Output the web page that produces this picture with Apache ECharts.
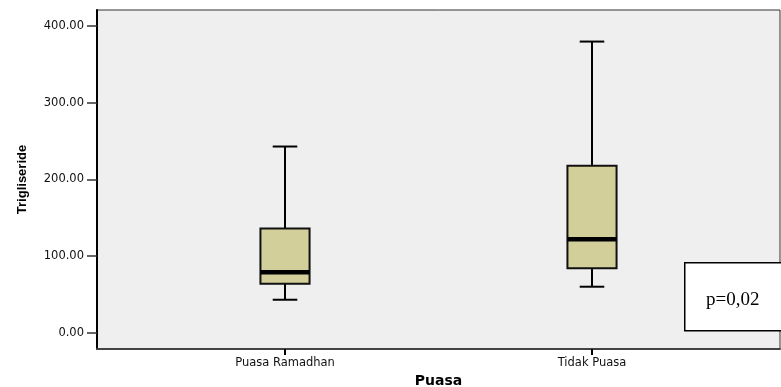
<!DOCTYPE html>
<html>
<head>
<meta charset="utf-8">
<script src="https://cdn.jsdelivr.net/npm/echarts@6/dist/echarts.min.js"></script>
<style>
  html, body { margin: 0; padding: 0; background: #ffffff; }
  #chart { width: 781px; height: 387px; }
</style>
</head>
<body>
<div id="chart"></div>
<script>
// Trigliseride by fasting group: five-number summaries per group
const categories = ['Puasa Ramadhan', 'Tidak Puasa'];
const positions = [1, 2];
const minValues = [43, 60];
const q1Values = [64, 84];
const medianValues = [79, 122];
const q3Values = [136, 218];
const maxValues = [243, 380];
const yTicks = [0, 100, 200, 300, 400];

const boxData = categories.map((c, i) => [
  positions[i], minValues[i], q1Values[i], medianValues[i], q3Values[i], maxValues[i]
]);

const BOX_WIDTH = 0.16;   // in x-axis units
const CAP_WIDTH = 0.08;
const boxFill = '#d3cf9a';

function renderBox(params, api) {
  const x = api.value(0);
  const pMin = api.coord([x, api.value(1)]);
  const pQ1 = api.coord([x, api.value(2)]);
  const pMed = api.coord([x, api.value(3)]);
  const pQ3 = api.coord([x, api.value(4)]);
  const pMax = api.coord([x, api.value(5)]);
  const halfW = api.size([BOX_WIDTH, 0])[0] / 2;
  const halfCap = api.size([CAP_WIDTH, 0])[0] / 2;
  const cx = pMed[0];
  const lineStyle = { stroke: '#000', lineWidth: 2 };
  return {
    type: 'group',
    children: [
      { type: 'line', shape: { x1: cx, y1: pMax[1], x2: cx, y2: pQ3[1] }, style: lineStyle },
      { type: 'line', shape: { x1: cx, y1: pQ1[1], x2: cx, y2: pMin[1] }, style: lineStyle },
      { type: 'line', shape: { x1: cx - halfCap, y1: pMax[1], x2: cx + halfCap, y2: pMax[1] }, style: lineStyle },
      { type: 'line', shape: { x1: cx - halfCap, y1: pMin[1], x2: cx + halfCap, y2: pMin[1] }, style: lineStyle },
      { type: 'rect', shape: { x: cx - halfW, y: pQ3[1], width: halfW * 2, height: pQ1[1] - pQ3[1] },
        style: { fill: boxFill, stroke: '#111', lineWidth: 2 } },
      { type: 'line', shape: { x1: cx - halfW, y1: pMed[1], x2: cx + halfW, y2: pMed[1] },
        style: { stroke: '#000', lineWidth: 4.5 } }
    ]
  };
}

const chart = echarts.init(document.getElementById('chart'), null, { renderer: 'canvas' });
chart.setOption({
  animation: false,
  backgroundColor: '#ffffff',
  grid: {
    left: 97, top: 10, right: 1, bottom: 38,
    outerBoundsMode: 'none', containLabel: false,
    show: true, backgroundColor: '#efefef', borderColor: '#333', borderWidth: 1
  },
  xAxis: {
    type: 'value',
    min: 0.3876, max: 2.6124,
    name: 'Puasa', nameLocation: 'middle', nameGap: 20,
    nameTextStyle: { fontFamily: 'DejaVu Sans', fontWeight: 'bold', fontSize: 14, color: '#000' },
    axisLine: { show: true, onZero: false, lineStyle: { color: '#444', width: 2 } },
    axisTick: { show: true, length: 6, customValues: positions, lineStyle: { color: '#000', width: 2 } },
    axisLabel: {
      customValues: positions, margin: 8,
      fontFamily: 'DejaVu Sans', fontSize: 11.5, color: '#111',
      formatter: v => categories[positions.indexOf(v)] || ''
    },
    splitLine: { show: false }
  },
  yAxis: {
    type: 'value',
    min: -21.3, max: 421.2,
    name: 'Trigliseride', nameLocation: 'middle', nameGap: 68,
    nameTextStyle: { fontFamily: 'Liberation Sans', fontWeight: 'bold', fontSize: 13, color: '#000' },
    axisLine: { show: true, onZero: false, lineStyle: { color: '#000', width: 2 } },
    axisTick: { show: true, length: 10, customValues: yTicks, lineStyle: { color: '#333', width: 1.5 } },
    axisLabel: {
      customValues: yTicks, margin: 13,
      fontFamily: 'DejaVu Sans', fontSize: 11.5, color: '#111',
      formatter: v => v.toFixed(2)
    },
    splitLine: { show: false }
  },
  series: [{
    type: 'custom',
    renderItem: renderBox,
    encode: { x: 0, y: [1, 2, 3, 4, 5] },
    data: boxData,
    clip: false
  }],
  graphic: [{
    type: 'group',
    left: 684, top: 262,
    children: [
      { type: 'rect', shape: { x: 0, y: 0, width: 110, height: 68 },
        style: { fill: '#ffffff', stroke: '#000', lineWidth: 1.5 } },
      { type: 'text', x: 48, y: 37,
        style: { text: 'p=0,02', font: '19px "Liberation Serif"', fill: '#000',
                 align: 'center', verticalAlign: 'middle' } }
    ]
  }]
});
</script>
</body>
</html>
